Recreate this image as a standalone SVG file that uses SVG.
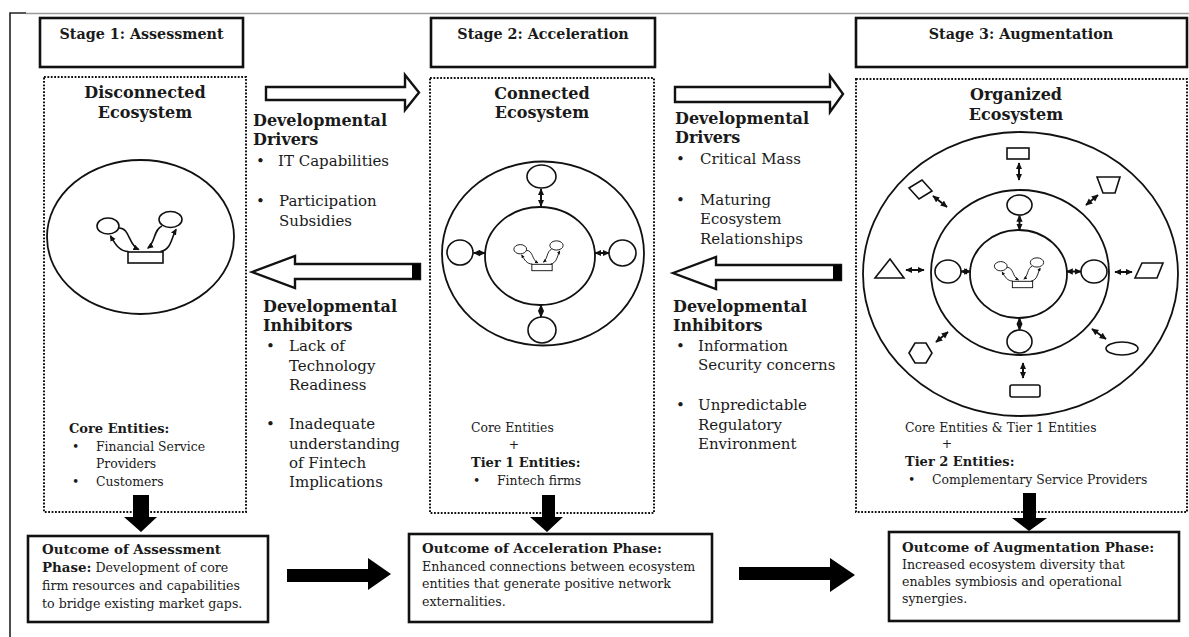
<svg xmlns="http://www.w3.org/2000/svg" width="1189" height="637" viewBox="0 0 1189 637">
<style>
  text { font-family: "DejaVu Serif", "Liberation Serif", serif; fill: #1a1a1a; }
  .stage { font-weight: bold; font-size: 14.3px; text-anchor: middle; }
  .eco { font-weight: bold; font-size: 16px; text-anchor: middle; }
  .hd { font-weight: bold; font-size: 16px; }
  .it { font-size: 15px; }
  .ce { font-size: 12.4px; }
  .ceb { font-size: 13px; font-weight: bold; }
  .c2 { font-size: 12.4px; }
  .c2b { font-size: 13px; font-weight: bold; }
  .ob { font-size: 13.4px; font-weight: bold; }
  .or { font-size: 12.6px; }
  .box { fill: #fff; stroke: #111; stroke-width: 2.6; }
  .dot { fill: none; stroke: #111; stroke-width: 2; stroke-dasharray: 1.8 1.6; }
  .ring { fill: none; stroke: #111; stroke-width: 1.8; }
  .sat { fill: #fff; stroke: #111; stroke-width: 1.6; }
  .hollow { fill: #fff; stroke: #111; stroke-width: 2.4; stroke-linejoin: miter; }
  .solid { fill: #000; stroke: none; }
  .dbl { stroke: #111; stroke-width: 2; fill: none; marker-start: url(#ah); marker-end: url(#ah); }
  .mot { fill: none; stroke: #111; stroke-width: 1.5; }
  .mota { fill: none; stroke: #111; stroke-width: 1.6; marker-end: url(#mh); }
</style>
<defs>
  <marker id="ah" viewBox="0 0 10 10" refX="9" refY="5" markerWidth="7" markerHeight="7" markerUnits="userSpaceOnUse" orient="auto-start-reverse">
    <path d="M0,0.5 L10,5 L0,9.5 z" fill="#111"/>
  </marker>
  <marker id="mh" viewBox="0 0 10 10" refX="8" refY="5" markerWidth="4" markerHeight="4" markerUnits="strokeWidth" orient="auto">
    <path d="M0,0.5 L10,5 L0,9.5 z" fill="#111"/>
  </marker>
  <g id="motif">
    <ellipse class="sat" cx="-37.5" cy="-31.5" rx="11" ry="8"/>
    <ellipse class="sat" cx="25" cy="-38" rx="11.5" ry="8"/>
    <rect class="sat" x="-17.5" y="-5.5" width="35" height="11"/>
    <path class="mota" d="M-26.5,-29.5 C-15.5,-29.5 -17.5,-13 -7,-8"/>
    <path class="mota" d="M-17,-6 C-26,-6 -30,-13 -35,-21.5"/>
    <path class="mota" d="M16.5,-31.5 C8,-28 10,-15 2.5,-9.5"/>
    <path class="mota" d="M15,-6 C26,-8 26,-20 30.5,-28"/>
  </g>
</defs>

<!-- frame -->
<g id="frame">
  <line x1="26" y1="13.5" x2="1189" y2="13.5" stroke="#9a9a9a" stroke-width="1.6"/>
  <polyline points="26,13 10,13 10,637" fill="none" stroke="#222" stroke-width="1.6"/>
</g>

<!-- stage headers -->
<g id="stage1">
  <rect class="box" x="40" y="18" width="203" height="49"/>
  <text class="stage" x="141.5" y="39">Stage 1: Assessment</text>
</g>
<g id="stage2">
  <rect class="box" x="431" y="18" width="224" height="49"/>
  <text class="stage" x="543" y="39">Stage 2: Acceleration</text>
</g>
<g id="stage3">
  <rect class="box" x="856" y="18" width="331" height="49"/>
  <text class="stage" x="1021" y="39">Stage 3: Augmentation</text>
</g>

<!-- panel 1 -->
<g id="panel1">
  <rect class="dot" x="44" y="77" width="202" height="435"/>
  <text class="eco" x="145" y="98">Disconnected</text>
  <text class="eco" x="145" y="118">Ecosystem</text>
  <ellipse class="ring" cx="140.5" cy="237" rx="93.5" ry="77"/>
  <use href="#motif" transform="translate(145.5,257.5)"/>
  <text class="ceb" x="69" y="433">Core Entities:</text>
  <text class="ce" x="72" y="451">•</text><text class="ce" x="96" y="451">Financial Service</text>
  <text class="ce" x="96" y="468">Providers</text>
  <text class="ce" x="72" y="486">•</text><text class="ce" x="96" y="486">Customers</text>
</g>

<!-- panel 2 -->
<g id="panel2">
  <rect class="dot" x="430" y="78" width="224" height="435"/>
  <text class="eco" x="542" y="99">Connected</text>
  <text class="eco" x="542" y="118">Ecosystem</text>
  <ellipse class="ring" cx="543" cy="253.5" rx="101" ry="92"/>
  <ellipse class="ring" cx="540" cy="256" rx="55" ry="49"/>
  <ellipse class="sat" cx="541.5" cy="176.5" rx="14.5" ry="11.5"/>
  <ellipse class="sat" cx="460" cy="252.5" rx="13" ry="12.5"/>
  <ellipse class="sat" cx="622.5" cy="253" rx="13.5" ry="13"/>
  <ellipse class="sat" cx="542" cy="330" rx="14" ry="13"/>
  <line class="dbl" x1="541" y1="189" x2="541" y2="206"/>
  <line class="dbl" x1="473.5" y1="253" x2="485" y2="253"/>
  <line class="dbl" x1="595" y1="253" x2="609" y2="253"/>
  <line class="dbl" x1="541" y1="305" x2="541" y2="317"/>
  <use href="#motif" transform="translate(542,267.5) scale(0.58)"/>
  <text class="c2" x="471" y="432">Core Entities</text>
  <text class="c2" x="514" y="449" text-anchor="middle">+</text>
  <text class="c2b" x="471" y="467">Tier 1 Entities:</text>
  <text class="c2" x="473" y="485">•</text><text class="c2" x="497" y="485">Fintech firms</text>
</g>

<!-- panel 3 -->
<g id="panel3">
  <rect class="dot" x="856" y="79" width="331" height="433"/>
  <text class="eco" x="1016" y="100">Organized</text>
  <text class="eco" x="1016" y="120">Ecosystem</text>
  <ellipse class="ring" cx="1020.5" cy="274" rx="157.5" ry="142"/>
  <ellipse class="ring" cx="1020" cy="272.5" rx="89" ry="82.5"/>
  <ellipse class="ring" cx="1018.5" cy="274" rx="48.5" ry="44"/>
  <ellipse class="sat" cx="1019.5" cy="205" rx="12.5" ry="10"/>
  <ellipse class="sat" cx="948" cy="271.5" rx="13" ry="11.5"/>
  <ellipse class="sat" cx="1094" cy="271.5" rx="13" ry="11.5"/>
  <ellipse class="sat" cx="1019.5" cy="341.5" rx="12.5" ry="11.5"/>
  <line class="dbl" x1="1019.5" y1="215.5" x2="1019.5" y2="230"/>
  <line class="dbl" x1="961" y1="271.5" x2="970.5" y2="271.5"/>
  <line class="dbl" x1="1066.5" y1="271.5" x2="1081" y2="271.5"/>
  <line class="dbl" x1="1019.5" y1="318" x2="1019.5" y2="330"/>
  <use href="#motif" transform="translate(1022.5,284.5) scale(0.58)"/>
  <!-- outer tier 2 shapes -->
  <rect class="sat" x="1007" y="148" width="22" height="11"/>
  <polygon class="sat" points="909,188 922,180 932,191 919,199"/>
  <polygon class="sat" points="1097,177 1120,177 1115,193 1103,193"/>
  <polygon class="sat" points="890,259 904,278 875,278"/>
  <polygon class="sat" points="1142,263 1163,263 1157,278 1135,278"/>
  <polygon class="sat" points="909,353 915,343 926,343 932,353 926,363 915,363"/>
  <ellipse class="sat" cx="1122" cy="348.5" rx="16" ry="6.5"/>
  <rect class="sat" x="1010" y="385" width="30" height="12" rx="2"/>
  <line class="dbl" x1="1019" y1="163" x2="1019" y2="180"/>
  <line class="dbl" x1="933" y1="196" x2="947" y2="207"/>
  <line class="dbl" x1="1098" y1="195" x2="1086" y2="205"/>
  <line class="dbl" x1="906" y1="270" x2="924" y2="270"/>
  <line class="dbl" x1="1115" y1="272" x2="1132" y2="272"/>
  <line class="dbl" x1="936" y1="342" x2="948" y2="332"/>
  <line class="dbl" x1="1092" y1="329" x2="1106" y2="339"/>
  <line class="dbl" x1="1023" y1="363" x2="1023" y2="378"/>
  <text class="c2" x="905" y="432">Core Entities &amp; Tier 1 Entities</text>
  <text class="c2" x="947" y="448" text-anchor="middle">+</text>
  <text class="c2b" x="905" y="466">Tier 2 Entities:</text>
  <text class="c2" x="908" y="484">•</text><text class="c2" x="932" y="484">Complementary Service Providers</text>
</g>

<!-- driver / inhibitor texts -->
<g id="drivers1">
  <text class="hd" x="253" y="126">Developmental</text>
  <text class="hd" x="253" y="145">Drivers</text>
  <text class="it" x="256" y="166">•</text><text class="it" x="278" y="166">IT Capabilities</text>
  <text class="it" x="256" y="205.5">•</text><text class="it" x="279" y="205.5">Participation</text>
  <text class="it" x="279" y="226">Subsidies</text>
</g>
<g id="inhibitors1">
  <text class="hd" x="263" y="312">Developmental</text>
  <text class="hd" x="263" y="331">Inhibitors</text>
  <text class="it" x="266" y="351">•</text><text class="it" x="289" y="351">Lack of</text>
  <text class="it" x="289" y="371">Technology</text>
  <text class="it" x="289" y="390">Readiness</text>
  <text class="it" x="266" y="429">•</text><text class="it" x="289" y="429">Inadequate</text>
  <text class="it" x="289" y="449">understanding</text>
  <text class="it" x="289" y="468">of Fintech</text>
  <text class="it" x="289" y="487">Implications</text>
</g>
<g id="drivers2">
  <text class="hd" x="675" y="124">Developmental</text>
  <text class="hd" x="675" y="143">Drivers</text>
  <text class="it" x="676" y="164">•</text><text class="it" x="700" y="164">Critical Mass</text>
  <text class="it" x="676" y="205">•</text><text class="it" x="700" y="205">Maturing</text>
  <text class="it" x="700" y="224">Ecosystem</text>
  <text class="it" x="700" y="244">Relationships</text>
</g>
<g id="inhibitors2">
  <text class="hd" x="673" y="312">Developmental</text>
  <text class="hd" x="673" y="331">Inhibitors</text>
  <text class="it" x="676" y="351">•</text><text class="it" x="698" y="351">Information</text>
  <text class="it" x="698" y="370">Security concerns</text>
  <text class="it" x="676" y="410">•</text><text class="it" x="698" y="410">Unpredictable</text>
  <text class="it" x="698" y="430">Regulatory</text>
  <text class="it" x="698" y="449">Environment</text>
</g>

<!-- connectors -->
<g id="connectors">
  <polygon class="hollow" points="266,87 405,87 405,75 419,92.5 405,110 405,100 266,100"/>
  <polygon class="hollow" points="675,87 830,87 830,76 843,94 830,112 830,102 675,102"/>
  <polygon class="hollow" points="252,272 295,256 295,264 420,264 420,279 295,279 295,288"/>
  <rect class="solid" x="412" y="264" width="8" height="15"/>
  <polygon class="hollow" points="673,273 716,257 716,265 841,265 841,280 716,280 716,289"/>
  <rect class="solid" x="833" y="265" width="8" height="15"/>
  <polygon class="solid" points="133,495 149,495 149,517 157,517 141,532 124,517 133,517"/>
  <polygon class="solid" points="542,495 555,495 555,517 563,517 547,532 530,517 542,517"/>
  <polygon class="solid" points="1023,493 1036,493 1036,518 1047,518 1029,531 1012,518 1023,518"/>
  <polygon class="solid" points="287,569 368,569 368,558 391,574 368,590 368,582 287,582"/>
  <polygon class="solid" points="739,567 830,567 830,558 855,575 830,592 830,580 739,580"/>
</g>

<!-- outcome boxes -->
<g id="outcome1">
  <rect class="box" x="28" y="536" width="240" height="86" stroke-width="3"/>
  <text class="ob" x="42" y="554">Outcome of Assessment</text>
  <text x="42" y="572"><tspan class="ob">Phase:</tspan><tspan class="or"> Development of core</tspan></text>
  <text class="or" x="42" y="590">firm resources and capabilities</text>
  <text class="or" x="42" y="608">to bridge existing market gaps.</text>
</g>
<g id="outcome2">
  <rect class="box" x="409" y="534" width="303" height="88" stroke-width="3"/>
  <text class="ob" x="422" y="553">Outcome of Acceleration Phase:</text>
  <text class="or" x="422" y="571">Enhanced connections between ecosystem</text>
  <text class="or" x="422" y="588">entities that generate positive network</text>
  <text class="or" x="422" y="606">externalities.</text>
</g>
<g id="outcome3">
  <rect class="box" x="889" y="532" width="290" height="89" stroke-width="3"/>
  <text class="ob" x="902" y="552">Outcome of Augmentation Phase:</text>
  <text class="or" x="902" y="569">Increased ecosystem diversity that</text>
  <text class="or" x="902" y="586">enables symbiosis and operational</text>
  <text class="or" x="902" y="603">synergies.</text>
</g>
</svg>
